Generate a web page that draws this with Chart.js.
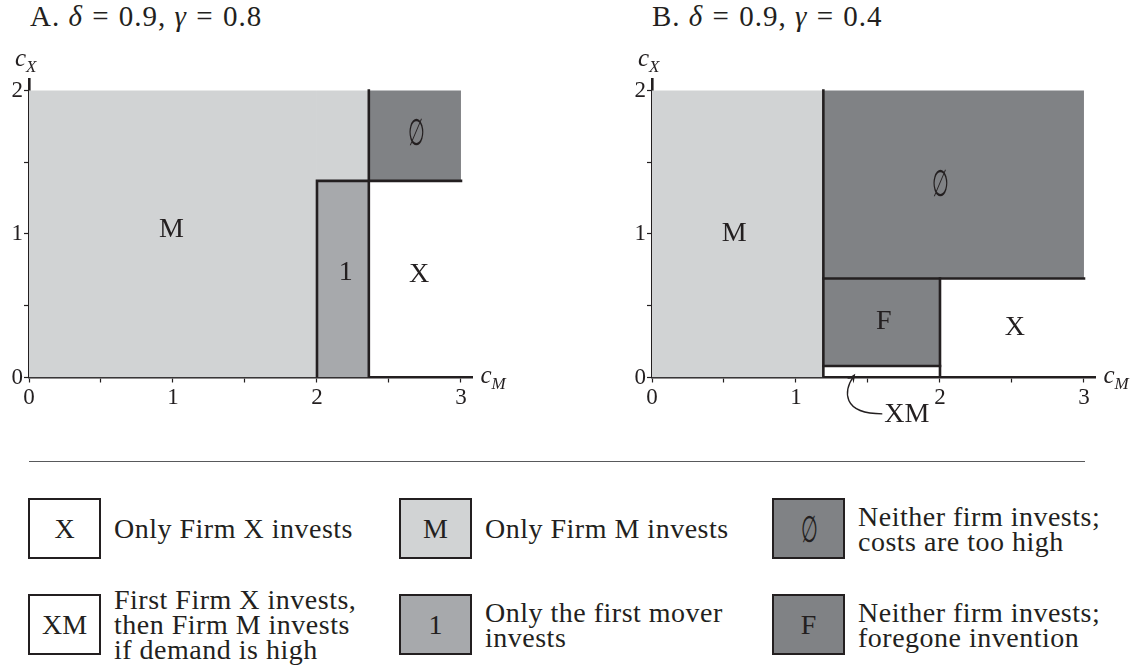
<!DOCTYPE html>
<html>
<head>
<meta charset="utf-8">
<script src="https://cdn.jsdelivr.net/npm/chart.js@4.4.1/dist/chart.umd.min.js"></script>
<style>
  html, body { margin: 0; padding: 0; background: #fff; }
  body { width: 1146px; height: 668px; position: relative; overflow: hidden;
         font-family: "Liberation Serif", serif; color: #231f20; }
  .title { position: absolute; top: 2px; font-size: 29px; line-height: 29px; white-space: nowrap;
           letter-spacing: 1px; }
  .title .eq { margin: 0 0.32em; }
  .panel { position: absolute; top: 0; width: 523px; height: 440px; }
  .rule { position: absolute; left: 29px; top: 461px; width: 1056px; height: 0;
          border-top: 1.4px solid #58595b; }
  .key { position: absolute; width: 73px; height: 61px; box-sizing: border-box;
         border: 2.6px solid #231f20; display: flex; align-items: center; justify-content: center;
         font-size: 28px; }
  .key .nil { display: inline-block; transform: scale(0.6, 1.15); font-size: 32px; }
  .desc { position: absolute; height: 61px; display: flex; align-items: center;
          font-size: 28px; line-height: 25px; white-space: nowrap; letter-spacing: 0.5px; }
</style>
</head>
<body>
<div class="title" style="left:30px">A. <i>δ</i><span class="eq">=</span>0.9, <i>γ</i><span class="eq">=</span>0.8</div>
<div class="title" style="left:652px">B. <i>δ</i><span class="eq">=</span>0.9, <i>γ</i><span class="eq">=</span>0.4</div>

<div class="panel" style="left:0"><canvas id="chartA"></canvas></div>
<div class="panel" style="left:623px"><canvas id="chartB"></canvas></div>

<div class="rule"></div>
<div id="legend"></div>

<script>
// ---- Region boundaries, as rectangles [cM from, cM to, cX from, cX to] ----
// Panel A: δ = 0.9, γ = 0.8
const panelA_onlyM      = [[0, 2, 0, 2], [2, 2.36, 1.37, 2]];
const panelA_firstMover = [[2, 2.36, 0, 1.37]];
const panelA_neither    = [[2.36, 3, 1.37, 2]];
const panelA_borders    = [[[2, 0], [2, 1.37], [3, 1.37]], [[2.36, 0], [2.36, 2]]];
const panelA_labels     = [["M", 0.99, 1.03], ["1", 2.2, 0.73], ["X", 2.71, 0.72], ["∅", 2.69, 1.69]];

// Panel B: δ = 0.9, γ = 0.4
const panelB_onlyM      = [[0, 1.19, 0, 2]];
const panelB_neither    = [[1.19, 3, 0.69, 2]];
const panelB_foregone   = [[1.19, 2, 0.08, 0.69]];
const panelB_borders    = [[[1.19, 0], [1.19, 2]], [[1.19, 0.69], [3, 0.69]],
                           [[2, 0], [2, 0.69]], [[1.19, 0.08], [2, 0.08]]];
const panelB_labels     = [["M", 0.57, 1.0], ["∅", 2.0, 1.33], ["F", 1.61, 0.39], ["X", 2.52, 0.35]];
const panelB_callout    = { text: "XM", at: [1.77, -0.26], tip: [1.40, 0.03] };

// Axes
const xTickLabels = [0, 1, 2, 3];
const yTickLabels = [0, 1, 2];
const xAxisMax = 3.08, yAxisMax = 2.08;

// Legend entries
const legendKeys  = ["X", "XM", "M", "1", "∅", "F"];
const legendTexts = ["Only Firm X invests",
                     "First Firm X invests,<br>then Firm M invests<br>if demand is high",
                     "Only Firm M invests",
                     "Only the first mover<br>invests",
                     "Neither firm invests;<br>costs are too high",
                     "Neither firm invests;<br>foregone invention"];

// ---- Styling ----
const INK = '#231f20';
const SHADE = { none: '#ffffff', light: '#d1d3d4', mid: '#a7a9ac', dark: '#808285' };
const SERIF = '"Liberation Serif", serif';
const legendFills = [SHADE.none, SHADE.none, SHADE.light, SHADE.mid, SHADE.dark, SHADE.dark];

function rectSets(rects, color) {
  return rects.map(([x0, x1, y0, y1]) => ({
    data: [{ x: x0, y: y1 }, { x: x1, y: y1 }],
    fill: { value: y0 },
    backgroundColor: color,
    borderColor: 'rgba(0,0,0,0)',
    borderWidth: 0,
    pointRadius: 0,
    tension: 0
  }));
}
function borderSets(lines) {
  return lines.map(pts => ({
    data: pts.map(([x, y]) => ({ x, y })),
    fill: false,
    borderColor: INK,
    borderWidth: 2.6,
    borderCapStyle: 'square',
    borderJoinStyle: 'miter',
    pointRadius: 0,
    tension: 0
  }));
}

// Draws region letters, the axis names and the XM callout
const annotate = {
  id: 'annotate',
  afterDraw(chart, args, opts) {
    const { ctx, chartArea: area, scales: { x, y } } = chart;
    ctx.save();
    ctx.fillStyle = INK;
    ctx.strokeStyle = INK;
    ctx.textAlign = 'center';
    ctx.textBaseline = 'middle';
    opts.labels.forEach(([t, vx, vy]) => {
      const px = x.getPixelForValue(vx), py = y.getPixelForValue(vy);
      if (t === '∅') {
        // narrow, tall empty-set sign
        ctx.save();
        ctx.translate(px, py);
        ctx.scale(0.6, 1.15);
        ctx.font = `32px ${SERIF}`;
        ctx.fillText(t, 0, 0);
        ctx.restore();
      } else {
        ctx.font = `28px ${SERIF}`;
        ctx.fillText(t, px, py);
      }
    });

    // axis names c_X and c_M
    ctx.textAlign = 'left';
    ctx.textBaseline = 'alphabetic';
    const axisName = (px, py, sub) => {
      ctx.font = `italic 25px ${SERIF}`;
      ctx.fillText('c', px, py);
      const w = ctx.measureText('c').width;
      ctx.font = `italic 17px ${SERIF}`;
      ctx.fillText(sub, px + w, py + 6);
    };
    axisName(area.left - 14, area.top - 13, 'X');
    axisName(area.right + 8, area.bottom + 5, 'M');

    if (opts.callout) {
      const c = opts.callout;
      const tx = x.getPixelForValue(c.at[0]), ty = y.getPixelForValue(c.at[1]);
      const px = x.getPixelForValue(c.tip[0]), py = y.getPixelForValue(c.tip[1]);
      ctx.font = `28px ${SERIF}`;
      ctx.textAlign = 'center';
      ctx.textBaseline = 'middle';
      ctx.fillText(c.text, tx, ty);
      const w = ctx.measureText(c.text).width;
      const sx = tx - w / 2 - 2, sy = ty - 1;
      const c1x = px - 12, c1y = sy, c2x = px - 10, c2y = py + 18;
      ctx.lineWidth = 1.3;
      ctx.beginPath();
      ctx.moveTo(sx, sy);
      ctx.bezierCurveTo(c1x, c1y, c2x, c2y, px, py + 3);
      ctx.stroke();
      // arrow head
      const ang = Math.atan2(py + 3 - c2y, px - c2x);
      const L = 9, W = 4;
      const hx = px + Math.cos(ang) * 3, hy = py + 3 + Math.sin(ang) * 3;
      ctx.beginPath();
      ctx.moveTo(hx, hy);
      ctx.lineTo(hx - L * Math.cos(ang) + W * Math.sin(ang), hy - L * Math.sin(ang) - W * Math.cos(ang));
      ctx.lineTo(hx - 0.6 * L * Math.cos(ang), hy - 0.6 * L * Math.sin(ang));
      ctx.lineTo(hx - L * Math.cos(ang) - W * Math.sin(ang), hy - L * Math.sin(ang) + W * Math.cos(ang));
      ctx.closePath();
      ctx.fill();
    }
    ctx.restore();
  }
};

function axis(max, labels, fitSize, horizontal) {
  return {
    type: 'linear',
    position: horizontal ? 'bottom' : 'left',
    min: 0, max: max,
    z: 1,
    afterFit(s) { if (horizontal) s.height = fitSize; else s.width = fitSize; },
    border: { display: true, color: INK, width: 2.6 },
    grid: { drawOnChartArea: false, drawTicks: true, tickLength: 5, tickColor: INK, tickWidth: 1.2 },
    ticks: {
      stepSize: 0.5, includeBounds: false, autoSkip: false, maxRotation: 0,
      padding: horizontal ? 2 : 1, color: INK,
      font: { family: SERIF, size: 23 },
      callback: v => labels.includes(v) ? String(v) : ''
    }
  };
}

function makeChart(id, datasets, labels, callout) {
  return new Chart(document.getElementById(id), {
    type: 'line',
    data: { datasets },
    plugins: [annotate],
    options: {
      responsive: true, maintainAspectRatio: false, animation: false, events: [],
      layout: { padding: { left: 0, top: 79, right: 50.5, bottom: 22.5 } },
      scales: {
        x: axis(xAxisMax, xTickLabels, 40, true),
        y: axis(yAxisMax, yTickLabels, 29, false)
      },
      plugins: {
        legend: { display: false },
        tooltip: { enabled: false },
        filler: { drawTime: 'beforeDatasetsDraw' },
        annotate: { labels, callout }
      }
    }
  });
}

makeChart('chartA', [
  ...rectSets(panelA_onlyM, SHADE.light),
  ...rectSets(panelA_firstMover, SHADE.mid),
  ...rectSets(panelA_neither, SHADE.dark),
  ...borderSets(panelA_borders)
], panelA_labels, null);

makeChart('chartB', [
  ...rectSets(panelB_onlyM, SHADE.light),
  ...rectSets(panelB_neither, SHADE.dark),
  ...rectSets(panelB_foregone, SHADE.dark),
  ...borderSets(panelB_borders)
], panelB_labels, panelB_callout);

// Legend: two rows by three columns
const colLeft = [28, 399, 772];
const rowTop = [498, 594];
const legend = document.getElementById('legend');
legendKeys.forEach((k, i) => {
  const col = Math.floor(i / 2), row = i % 2;
  const box = document.createElement('div');
  box.className = 'key';
  box.style.left = colLeft[col] + 'px';
  box.style.top = rowTop[row] + 'px';
  box.style.background = legendFills[i];
  if (k === '∅') {
    const s = document.createElement('span');
    s.className = 'nil';
    s.textContent = k;
    box.appendChild(s);
  } else {
    box.textContent = k;
  }
  legend.appendChild(box);
  const d = document.createElement('div');
  d.className = 'desc';
  d.style.left = (colLeft[col] + 86) + 'px';
  d.style.top = rowTop[row] + 'px';
  d.innerHTML = '<div>' + legendTexts[i] + '</div>';
  legend.appendChild(d);
});
</script>
</body>
</html>
